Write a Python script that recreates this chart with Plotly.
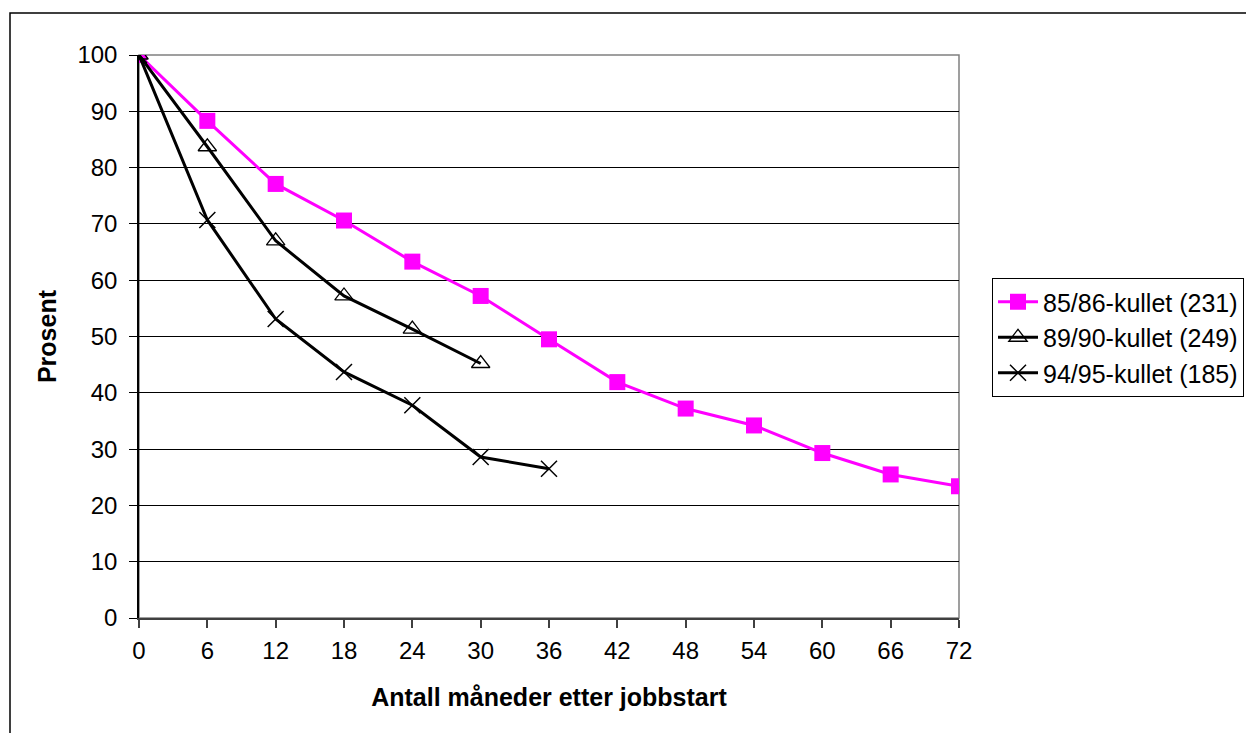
import plotly.graph_objects as go

months_a = [0, 6, 12, 18, 24, 30, 36, 42, 48, 54, 60, 66, 72]
vals_a = [100, 88.3, 77.1, 70.6, 63.3, 57.2, 49.5, 41.9, 37.2, 34.2, 29.3, 25.5, 23.4]
months_b = [0, 6, 12, 18, 24, 30]
vals_b = [100, 83.7, 67.0, 57.2, 51.3, 45.2]
months_c = [0, 6, 12, 18, 24, 30, 36]
vals_c = [100, 70.7, 53.1, 43.7, 37.8, 28.6, 26.5]
names = ["85/86-kullet (231)", "89/90-kullet (249)", "94/95-kullet (185)"]
x_ticks = list(range(0, 73, 6))
y_ticks = list(range(0, 101, 10))

# page has an 8px body margin; compensate
OFF = 8
W, H = 1254 - OFF, 733 - OFF
L, T = 139 - OFF, 55 - OFF
pw, ph = 820, 563
R, B = W - L - pw, H - T - ph

fig = go.Figure()
fig.add_trace(go.Scatter(x=months_a, y=vals_a, name=names[0], mode="lines+markers",
                         line=dict(color="#FF00FF", width=3),
                         marker=dict(symbol="square", size=16, color="#FF00FF")))
fig.add_trace(go.Scatter(x=months_b, y=vals_b, name=names[1], mode="lines+markers",
                         line=dict(color="black", width=3),
                         marker=dict(symbol="triangle-up-open", size=16, color="black",
                                     line=dict(width=1.3, color="black"))))
fig.add_trace(go.Scatter(x=months_c, y=vals_c, name=names[2], mode="lines+markers",
                         line=dict(color="black", width=3),
                         marker=dict(symbol="x-thin-open", size=16, color="black",
                                     line=dict(width=1.5, color="black"))))

font_fam = "Liberation Sans, Arial, sans-serif"

def px_x(p):
    return (p - OFF - L) / pw

def px_y(p):
    return (T + ph - (p - OFF)) / ph

# outer chart border
fig.add_shape(type="rect", xref="paper", yref="paper",
              x0=px_x(10), x1=px_x(1270), y0=px_y(750), y1=px_y(13),
              line=dict(color="black", width=1.5), layer="below")
# plot area border (gray top/right)
fig.add_shape(type="rect", xref="paper", yref="paper", x0=0, x1=1, y0=0, y1=1,
              line=dict(color="#808080", width=1.5), layer="below")

fig.update_layout(
    width=W, height=H,
    margin=dict(l=L, r=R, t=T, b=B, autoexpand=False),
    paper_bgcolor="white", plot_bgcolor="white",
    font=dict(family=font_fam, size=24, color="black"),
    showlegend=True,
    legend=dict(x=px_x(992), y=px_y(278), xanchor="left", yanchor="top",
                bordercolor="black", borderwidth=1, bgcolor="white",
                font=dict(size=25, family=font_fam), tracegroupgap=0,
                itemwidth=40),
)
fig.update_xaxes(range=[0, 72], tickvals=x_ticks, ticktext=[str(v) for v in x_ticks],
                 showgrid=False, zeroline=False, showline=True, linecolor="#404040", linewidth=1.5,
                 ticks="outside", ticklen=8, tickcolor="#404040", tickwidth=1.5,
                 tickfont=dict(size=24), fixedrange=True, ticklabelstandoff=2,
                 title=dict(text="<b>Antall måneder etter jobbstart</b>", font=dict(size=25), standoff=26))
fig.update_yaxes(range=[0, 100], tickvals=y_ticks,
                 showgrid=True, gridcolor="black", gridwidth=1, zeroline=False,
                 showline=True, linecolor="black", linewidth=1.5,
                 ticks="outside", ticklen=8, tickcolor="black", tickwidth=1,
                 tickfont=dict(size=24), fixedrange=True, ticklabelstandoff=7,
                 title=dict(text="<b>Prosent</b>", font=dict(size=25), standoff=14))

fig.write_html("out.html")
